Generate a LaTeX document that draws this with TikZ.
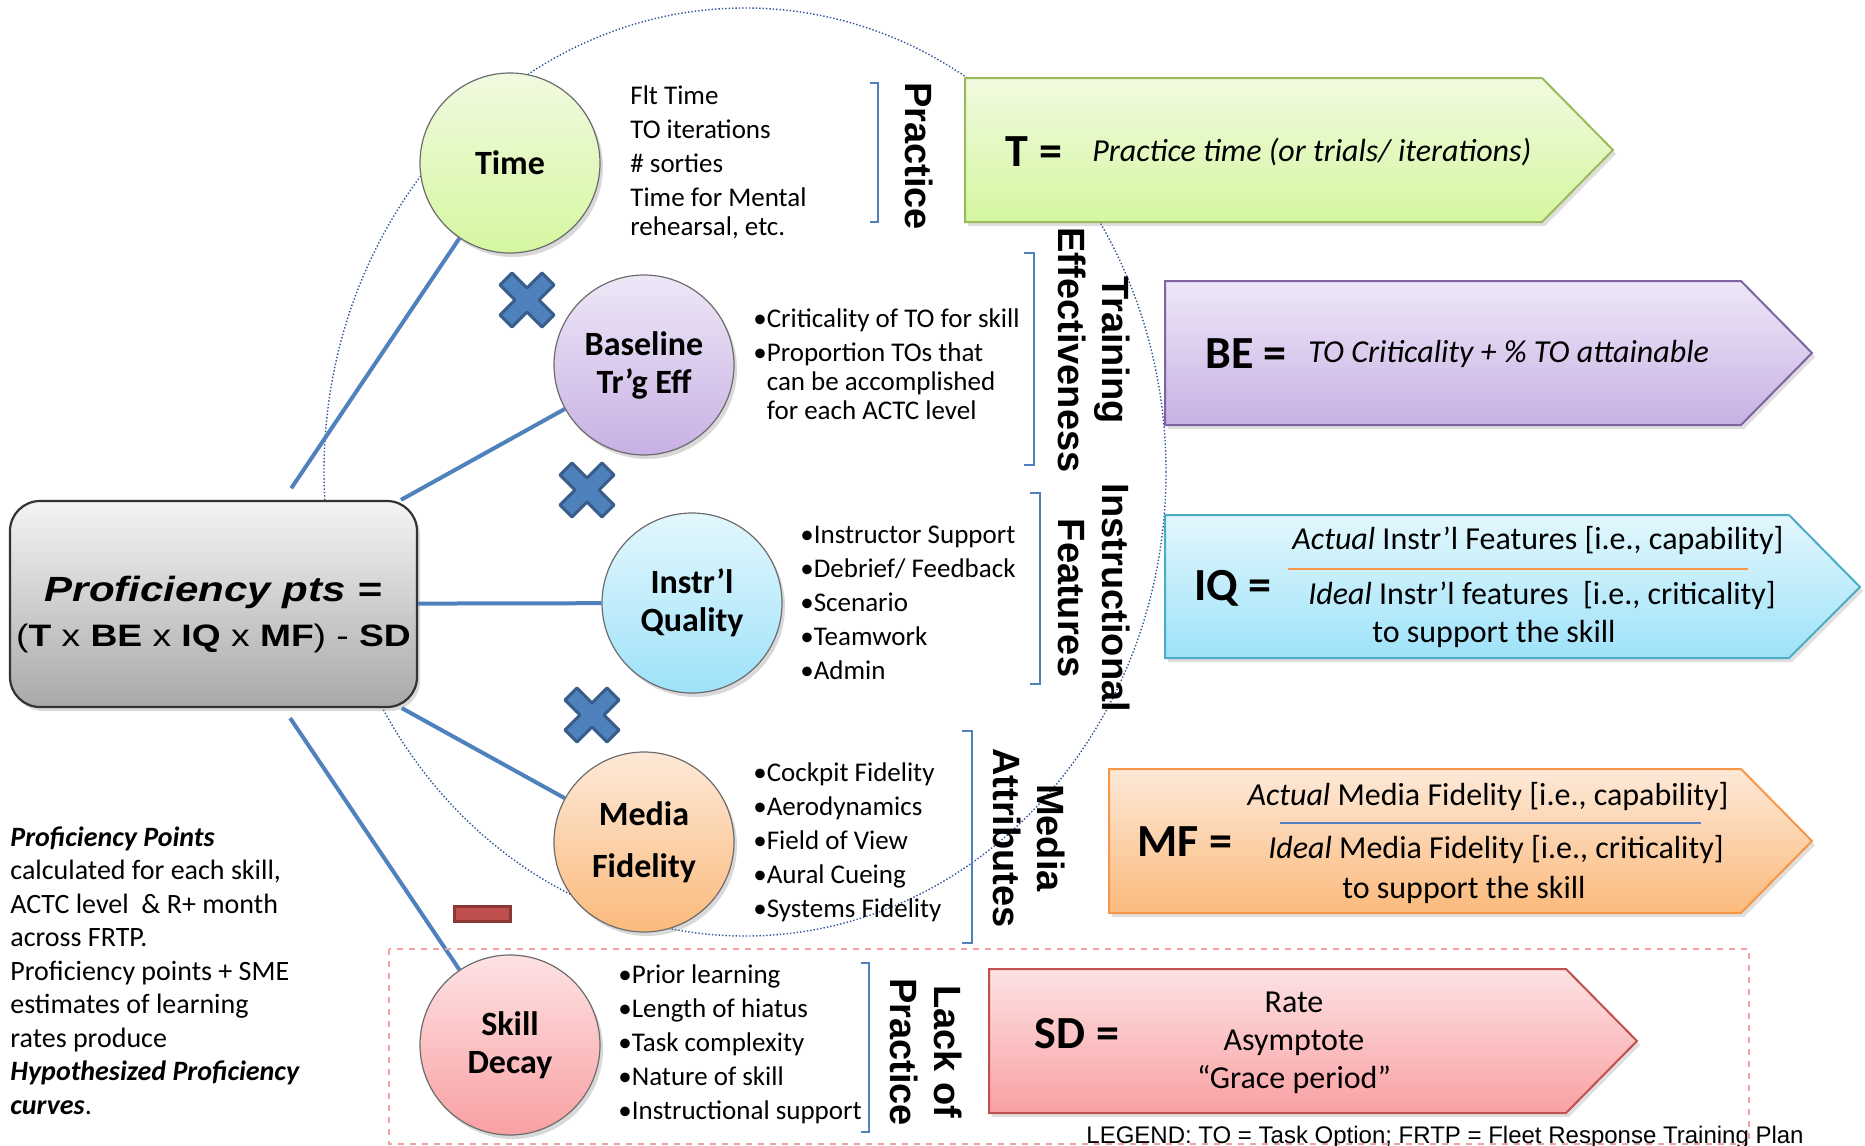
\documentclass[tikz,border=0pt]{standalone}
\usepackage{fontspec}
\setmainfont{Carlito}
\newfontfamily\arialfont{Liberation Sans}
\newfontfamily\boxfont{Liberation Sans}[FakeStretch=1.2]
\usetikzlibrary{shadows}

\definecolor{lineblue}{HTML}{4F81BD}
\definecolor{ellblue}{HTML}{2F5597}
\definecolor{xblueD}{HTML}{385D8A}
\definecolor{greenA}{HTML}{F1FAE0}
\definecolor{greenB}{HTML}{D4F7A0}
\definecolor{greenD}{HTML}{9BBB59}
\definecolor{purpA}{HTML}{EEE7F7}
\definecolor{purpB}{HTML}{C8B1E4}
\definecolor{purpD}{HTML}{8064A2}
\definecolor{cyanA}{HTML}{E3F7FD}
\definecolor{cyanB}{HTML}{9EE2F9}
\definecolor{cyanD}{HTML}{4BACC6}
\definecolor{orngA}{HTML}{FDE9D8}
\definecolor{orngB}{HTML}{FBBA7C}
\definecolor{orngD}{HTML}{F79646}
\definecolor{redA}{HTML}{FDE2E3}
\definecolor{redB}{HTML}{F9A0A3}
\definecolor{redD}{HTML}{C0504D}
\definecolor{redDD}{HTML}{8C3836}
\definecolor{boxA}{HTML}{F4F4F4}
\definecolor{boxB}{HTML}{A9A9A9}
\definecolor{dashred}{HTML}{F4A3A3}

\tikzset{
  blob/.style={circle, minimum size=90pt, inner sep=0pt, draw=gray!85!black, line width=0.6pt, align=center,
    font=\fontsize{17}{19}\selectfont\bfseries, drop shadow={opacity=0.3, shadow xshift=1.5pt, shadow yshift=-2pt}},
  pbox/.style={rectangle, rounded corners=15pt, minimum width=203.5pt, minimum height=103pt, inner sep=0pt,
    top color=boxA, bottom color=boxB, draw=black!80, line width=1.1pt,
    drop shadow={opacity=0.3, shadow xshift=1.5pt, shadow yshift=-2pt}},
  conn/.style={draw=lineblue, line width=2pt},
  tag/.style={line width=1pt, drop shadow={opacity=0.25, shadow xshift=1.5pt, shadow yshift=-2pt}},
  bullets/.style={anchor=base west, align=left, inner sep=0pt, font=\fontsize{13.5}{14.5}\selectfont},
  sidelabel/.style={rotate=-90, align=center, inner sep=0pt, font=\arialfont\bfseries\fontsize{19}{22}\selectfont},
  brak/.style={draw=lineblue, line width=0.8pt},
  head/.style={inner sep=0pt, font=\fontsize{23}{25}\selectfont\bfseries},
  eqtext/.style={inner sep=0pt, align=center, font=\fontsize{16}{19}\selectfont},
  xmark/.style={fill=lineblue, draw=xblueD, line width=1.5pt, line join=round},
}

\begin{document}
\begin{tikzpicture}[x=0.5pt,y=-0.5pt]
        \useasboundingbox (0,0) rectangle (1865,1146);

        \draw[densely dotted, ellblue, line width=0.7pt] (745,472) ellipse [x radius=210.5pt, y radius=232pt];

        \node[pbox] (prof) at (213.5,604) {};
        \node[inner sep=0pt, align=center, font=\boxfont\fontsize{16}{22.5}\selectfont] (formula) at (213.5,615)
          {{\fontsize{17.5}{22.5}\selectfont\bfseries\itshape Proficiency pts =}\\
           {\fontsize{15.5}{22.5}\selectfont(\textbf{T} x \textbf{BE} x \textbf{IQ} x \textbf{MF}) - \textbf{SD}}};

        \node[blob, top color=greenA, bottom color=greenB] (time) at (510,163) {Time};
        \node[blob, top color=purpA, bottom color=purpB] (base) at (644,365) {Baseline\\Tr’g Eff};
        \node[blob, top color=cyanA, bottom color=cyanB] (instr) at (692,603) {Instr’l\\Quality};
        \node[blob, top color=orngA, bottom color=orngB] (media) at (644,842) {Media\\[7pt]Fidelity};
        \node[blob, top color=redA, bottom color=redB] (decay) at (510,1045) {Skill\\Decay};

        \draw[conn, shorten <=7pt] (prof) -- (time);
        \draw[conn] (prof) -- (base);
        \draw[conn] (prof) -- (instr);
        \draw[conn] (prof) -- (media);
        \draw[conn, shorten <=6pt] (prof) -- (decay);

        \draw[xmark, shift={(527,300)}] (-27,-15) -- (-15,-27) -- (0,-12) -- (15,-27) -- (27,-15) -- (12,0) -- (27,15) -- (15,27) -- (0,12) -- (-15,27) -- (-27,15) -- (-12,0) -- cycle;
        \draw[xmark, shift={(587,490)}] (-27,-15) -- (-15,-27) -- (0,-12) -- (15,-27) -- (27,-15) -- (12,0) -- (27,15) -- (15,27) -- (0,12) -- (-15,27) -- (-27,15) -- (-12,0) -- cycle;
        \draw[xmark, shift={(592,715)}] (-27,-15) -- (-15,-27) -- (0,-12) -- (15,-27) -- (27,-15) -- (12,0) -- (27,15) -- (15,27) -- (0,12) -- (-15,27) -- (-27,15) -- (-12,0) -- cycle;
        \draw[fill=redD, draw=redDD, line width=1.5pt] (454,906) rectangle (510,921);

        \draw[dashred, dashed, line width=0.8pt] (389,949) rectangle (1749,1144);

        \draw[tag, draw=greenD, top color=greenA, bottom color=greenB] (965,78) -- (1542,78) -- (1613,150) -- (1542,222) -- (965,222) -- cycle;
        \draw[tag, draw=purpD, top color=purpA, bottom color=purpB] (1165,281) -- (1741,281) -- (1812,353) -- (1741,425) -- (1165,425) -- cycle;
        \draw[tag, draw=cyanD, top color=cyanA, bottom color=cyanB] (1165,515) -- (1789,515) -- (1860,587) -- (1789,658) -- (1165,658) -- cycle;
        \draw[tag, draw=orngD, top color=orngA, bottom color=orngB] (1109,769) -- (1741,769) -- (1812,841) -- (1741,913) -- (1109,913) -- cycle;
        \draw[tag, draw=redD, top color=redA, bottom color=redB] (989,969) -- (1566,969) -- (1637,1041) -- (1566,1113) -- (989,1113) -- cycle;

        \draw[brak] (870,83) -- (878,83) -- (878,222) -- (870,222);
        \draw[brak] (1024,253) -- (1034,253) -- (1034,465) -- (1024,465);
        \draw[brak] (1030,493) -- (1040,493) -- (1040,684) -- (1030,684);
        \draw[brak] (962,731) -- (972,731) -- (972,943) -- (962,943);
        \draw[brak] (861,963) -- (869,963) -- (869,1132) -- (861,1132);

        \node[sidelabel] (practice) at (919,156) {Practice};
        \node[sidelabel] (traineff) at (1094,350) {Training\\Effectiveness};
        \node[sidelabel] (instrfeat) at (1094,598) {Instructional\\Features};
        \node[sidelabel] (mediaattr) at (1029,838) {Media\\Attributes};
        \node[sidelabel] (lackprac) at (926,1052) {Lack of\\Practice};

        \node[bullets] (timelist) at (630,235) {Flt Time\\[2.5pt]TO iterations\\[2.5pt]\# sorties\\[2.5pt]Time for Mental\\rehearsal, etc.};
        \node[bullets] (baselist) at (753,419) {•Criticality of TO for skill\\[2.5pt]•Proportion TOs that\\\phantom{•}can be accomplished\\\phantom{•}for each ACTC level};
        \node[bullets] (instrlist) at (800,679) {•Instructor Support\\[2.5pt]•Debrief/ Feedback\\[2.5pt]•Scenario\\[2.5pt]•Teamwork\\[2.5pt]•Admin};
        \node[bullets] (medialist) at (753,917) {•Cockpit Fidelity\\[2.5pt]•Aerodynamics\\[2.5pt]•Field of View\\[2.5pt]•Aural Cueing\\[2.5pt]•Systems Fidelity};
        \node[bullets] (decaylist) at (618,1119) {•Prior learning\\[2.5pt]•Length of hiatus\\[2.5pt]•Task complexity\\[2.5pt]•Nature of skill\\[2.5pt]•Instructional support};

        \node[bullets, font=\fontsize{14}{16.75}\selectfont] (note) at (10,1114) {\textbf{\textit{Proficiency Points}}\\calculated for each skill,\\ACTC level\ \ \& R+ month\\across FRTP.\\Proficiency points + SME\\estimates of learning\\rates produce\\\textbf{\textit{Hypothesized Proficiency}}\\\textbf{\textit{curves}}.};

        \node[head] (teq) at (1034,152) {T =};
        \node[eqtext, anchor=west] (tdef) at (1092,152) {\itshape Practice time (or trials/ iterations)};
        \node[head] (beeq) at (1246,354) {BE =};
        \node[eqtext, anchor=west] (bedef) at (1308,354) {\itshape TO Criticality + \% TO attainable};

        \node[head] (iqeq) at (1233,588) {IQ =};
        \node[eqtext] (iqtop) at (1538,541) {\textit{Actual} Instr’l Features [i.e., capability]};
        \draw[orngD, line width=1.2pt] (1288,569) -- (1748,569);
        \node[eqtext] (iqbot) at (1542,596) {\textit{Ideal} Instr’l features\ \ [i.e., criticality]};
        \node[eqtext] (iqsub) at (1494,634) {to support the skill};

        \node[head] (mfeq) at (1185,842) {MF =};
        \node[eqtext] (mftop) at (1488,797) {\textit{Actual} Media Fidelity [i.e., capability]};
        \draw[lineblue, line width=1.2pt] (1280,823) -- (1701,823);
        \node[eqtext] (mfbot) at (1496,850) {\textit{Ideal} Media Fidelity [i.e., criticality]};
        \node[eqtext] (mfsub) at (1464,890) {to support the skill};

        \node[head] (sdeq) at (1077,1034) {SD =};
        \node[eqtext] (sddef) at (1294,1043) {Rate\\Asymptote\\“Grace period”};

        \node[anchor=base west, inner sep=0pt, font=\arialfont\fontsize{12}{14}\selectfont] (legend) at (1086,1143) {LEGEND: TO = Task Option; FRTP = Fleet Response Training Plan};
\end{tikzpicture}
\end{document}
